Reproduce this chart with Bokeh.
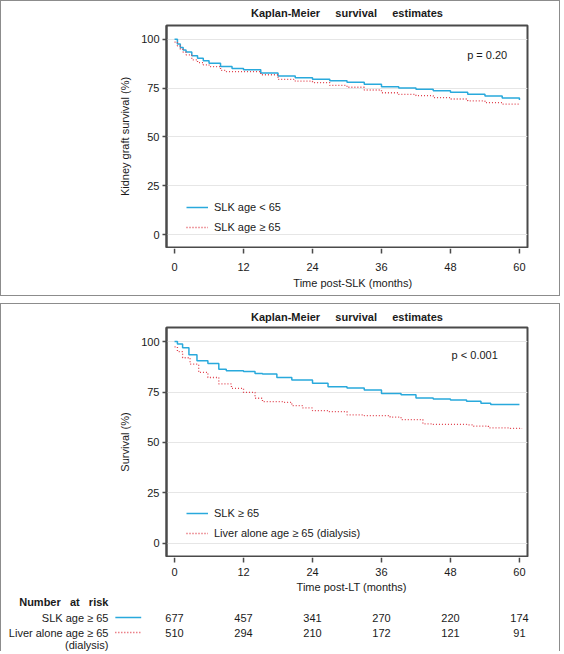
from bokeh.plotting import figure
from bokeh.layouts import column
from bokeh.models import Range1d, Label, Legend, LegendItem, FixedTicker
from bokeh.embed import file_html
from bokeh.resources import INLINE
from bokeh.core.properties import value

# ---- data -------------------------------------------------------------
# Panel 1: kidney graft survival, SLK recipients by age
slk_young_t = [0, 0.5, 1, 1.5, 2, 3, 4, 5, 6, 8, 10, 12, 15, 18, 21, 24, 27, 30,
               33, 36, 39, 42, 45, 48, 51, 54, 57, 60]
slk_young_s = [100, 97.5, 95.8, 94.5, 93.4, 91.5, 90.2, 88.9, 87.7, 86.0, 85.0, 84.3,
               82.7, 81.2, 80.3, 79.5, 78.7, 78.0, 77.0, 75.7, 75.0, 74.4, 73.6, 72.8,
               71.8, 70.9, 69.9, 68.9]
slk_old_t = [0, 0.5, 1, 1.5, 2, 3, 4, 5, 6, 8, 9, 12, 15, 18, 21, 24, 27, 30, 33,
             36, 39, 42, 45, 48, 51, 54, 57, 60]
slk_old_s = [98.5, 96.5, 94.8, 93.3, 92.0, 89.4, 88.0, 86.9, 86.0, 84.0, 83.4, 83.4,
             81.8, 79.4, 78.5, 77.8, 76.4, 75.4, 74.0, 72.6, 71.8, 71.1, 70.1, 69.4,
             68.4, 67.5, 66.8, 66.3]

# Panel 2: patient survival, age >= 65
slk65_t = [0, 0.5, 1.4, 2.5, 3.9, 5.8, 7.7, 9, 12, 14, 15.3, 17.8, 20.4, 24, 26.7,
           30, 33, 36, 39.4, 42, 45, 48, 50.8, 53.3, 55, 60]
slk65_s = [100, 98.8, 97.0, 93.5, 90.5, 89.1, 86.3, 85.5, 85.2, 84.2, 83.9, 82.2,
           81.0, 79.4, 77.6, 77.0, 76.0, 74.3, 73.7, 72.0, 71.5, 71.0, 70.4, 69.4,
           68.8, 68.8]
liver65_t = [0, 0.5, 1.4, 2.7, 4.2, 5.8, 7.7, 9.9, 12, 14, 15.3, 19, 20.4, 22.3, 24,
             26.7, 30, 33, 36, 37.5, 39.4, 42, 43.2, 45, 50.8, 52, 54.6, 58.4, 60.4]
liver65_s = [97.4, 95.0, 92.0, 88.8, 84.7, 82.2, 79.0, 76.8, 74.8, 71.9, 70.2, 69.9,
             68.2, 67.1, 65.8, 65.3, 63.7, 63.3, 63.3, 62.5, 61.3, 61.3, 59.2, 58.9,
             58.7, 58.1, 57.2, 57.0, 56.7]

# Number at risk
risk_times = [0, 12, 24, 36, 48, 60]
risk_slk = [677, 457, 341, 270, 220, 174]
risk_liver = [510, 294, 210, 172, 121, 91]

x_ticks = [0, 12, 24, 36, 48, 60]
y_ticks = [0, 25, 50, 75, 100]

# ---- style ------------------------------------------------------------
FONT = "Liberation Sans"
FS = "11px"
BLUE = "#29a9dc"
RED = "#e0404c"
DOTS = "1 2"
FRAME = "#4a4a4a"
TXT = "#1a1a1a"
EDGE = "1px solid #8c8c8c"
X0, X1 = -1.4, 61.4
Y0, Y1 = -6.6, 107.0
W = 560
MB_LEFT, MB_RIGHT = 165, 34
GAP = "\u00a0" * 5
TITLE = "Kaplan-Meier" + GAP + "survival" + GAP + "estimates"

txt_style = dict(text_font=value(FONT), text_font_size=FS, text_color=TXT,
                 text_baseline="middle")


def km_panel(height, ylabel):
    # title and x axis live in the strips above and below the frame
    p = figure(width=W, height=height, x_range=Range1d(X0, X1), y_range=Range1d(Y0, Y1),
               title=None, x_axis_location=None, output_backend="svg",
               toolbar_location=None,
               min_border_left=MB_LEFT, min_border_right=MB_RIGHT,
               min_border_top=1, min_border_bottom=1)
    p.styles = {"border-left": EDGE, "border-right": EDGE}
    p.background_fill_color = "white"
    p.border_fill_color = "white"
    p.outline_line_color = FRAME
    p.outline_line_width = 2
    p.xgrid.grid_line_color = None
    p.ygrid.grid_line_color = "#e6e6e6"
    p.ygrid.grid_line_width = 1
    ax = p.yaxis[0]
    ax.ticker = FixedTicker(ticks=y_ticks)
    ax.axis_line_color = FRAME
    ax.axis_line_width = 2
    ax.major_tick_line_color = FRAME
    ax.major_tick_line_width = 1.5
    ax.major_tick_out = 4
    ax.major_tick_in = 0
    ax.minor_tick_line_color = None
    ax.major_label_text_font = FONT
    ax.major_label_text_font_size = FS
    ax.major_label_text_color = TXT
    ax.axis_label = ylabel
    ax.axis_label_text_font = FONT
    ax.axis_label_text_font_size = FS
    ax.axis_label_text_font_style = "normal"
    ax.axis_label_text_color = TXT
    ax.major_label_standoff = 3
    ax.axis_label_standoff = 7
    return p


def add_curves(p, t1, s1, name1, t2, s2, name2, loc):
    r1 = p.step(t1, s1, mode="after", line_color=BLUE, line_width=1.5)
    r2 = p.step(t2, s2, mode="after", line_color=RED, line_width=1.3, line_dash=DOTS)
    leg = Legend(items=[LegendItem(label=name1, renderers=[r1]),
                        LegendItem(label=name2, renderers=[r2])],
                 location=loc, padding=0, margin=0, spacing=8,
                 glyph_width=22, glyph_height=12, label_height=12, label_standoff=6,
                 label_text_font=FONT, label_text_font_size=FS, label_text_color=TXT,
                 border_line_color=None, background_fill_alpha=0)
    p.add_layout(leg, "center")


def text_strip(height, borders):
    # same month-to-pixel scale as the panels, frame spanning the whole canvas;
    # y runs in pixels from the top of the strip
    ppm = (W - MB_LEFT - MB_RIGHT) / (X1 - X0)
    s = figure(width=W, height=height,
               x_range=Range1d(X0 - MB_LEFT / ppm, X1 + MB_RIGHT / ppm),
               y_range=Range1d(height, 0), title=None, output_backend="svg",
               toolbar_location=None,
               min_border_left=0, min_border_right=0, min_border_top=0, min_border_bottom=0)
    s.frame_align = False
    s.styles = borders
    s.axis.visible = False
    s.grid.visible = False
    s.outline_line_color = None
    return s


def title_strip(height, title_y):
    s = text_strip(height, {"border-top": EDGE, "border-left": EDGE, "border-right": EDGE})
    s.text(x=[(X0 + X1) / 2], y=[title_y], text=[TITLE], text_align="center",
           text_font_style="bold", **txt_style)
    return s


def x_axis(s, tick_len, label_y, title, title_x, title_y):
    s.segment(x0=x_ticks, y0=[0] * len(x_ticks), x1=x_ticks, y1=[tick_len] * len(x_ticks),
              line_color=FRAME, line_width=1.5)
    s.text(x=x_ticks, y=[label_y] * len(x_ticks), text=[str(v) for v in x_ticks],
           text_align="center", **txt_style)
    s.text(x=[title_x], y=[title_y], text=[title], text_align="center", **txt_style)


# ---- panel 1 ------------------------------------------------------------
h1 = title_strip(24, 11.4)
p1 = km_panel(224, "Kidney graft survival (%)")
add_curves(p1, slk_young_t, slk_young_s, "SLK age < 65",
           slk_old_t, slk_old_s, "SLK age \u2265 65", (20, 14))
p1.add_layout(Label(x=50.9, y=92, text="p = 0.20", text_font=FONT, text_font_size=FS,
                    text_baseline="middle", text_color=TXT))

s1 = text_strip(48, {"border-bottom": EDGE, "border-left": EDGE, "border-right": EDGE})
x_axis(s1, 5, 18.5, "Time post-SLK (months)", 31.0, 34.6)

# ---- panel 2 ------------------------------------------------------------
h2 = title_strip(23, 12.3)
p2 = km_panel(231, "Survival (%)")
add_curves(p2, slk65_t, slk65_s, "SLK \u2265 65",
           liver65_t, liver65_s, "Liver alone age \u2265 65 (dialysis)", (20, 17))
p2.add_layout(Label(x=48.2, y=93.2, text="p < 0.001", text_font=FONT, text_font_size=FS,
                    text_baseline="middle", text_color=TXT))

# ---- x axis and number-at-risk table -----------------------------------
t = text_strip(94, {"border-left": EDGE, "border-right": EDGE})
x_axis(t, 5, 14.5, "Time post-LT (months)", 30.8, 29.5)
t.text(x=risk_times, y=[60] * len(risk_times), text=[str(v) for v in risk_slk],
       text_align="center", **txt_style)
t.text(x=risk_times, y=[75] * len(risk_times), text=[str(v) for v in risk_liver],
       text_align="center", **txt_style)
lab_x = -11.5
t.text(x=[lab_x], y=[44], text=["Number\u00a0\u00a0\u00a0at\u00a0\u00a0\u00a0risk"],
       text_align="right", text_font_style="bold", **txt_style)
t.text(x=[lab_x, lab_x, lab_x], y=[60, 75, 87],
       text=["SLK age \u2265 65", "Liver alone age \u2265 65", "(dialysis)"],
       text_align="right", **txt_style)
t.line([-10.3, -5.8], [60, 60], line_color=BLUE, line_width=1.5)
t.line([-10.3, -5.8], [75, 75], line_color=RED, line_width=1.3, line_dash=DOTS)

layout = column(column(h1, p1, s1, spacing=0), column(h2, p2, t, spacing=0), spacing=7)
open("out.html", "w").write(file_html(layout, INLINE))
